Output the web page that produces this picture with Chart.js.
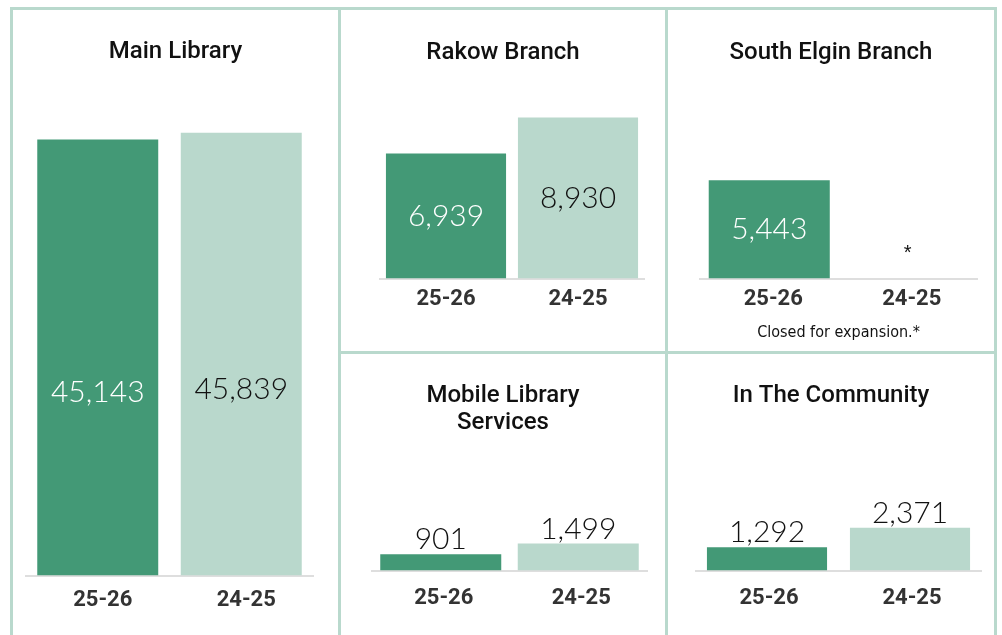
<!DOCTYPE html>
<html>
<head>
<meta charset="utf-8">
<script src="https://cdn.jsdelivr.net/npm/chart.js@4.4.1/dist/chart.umd.min.js"></script>
<style>
html, body { margin: 0; padding: 0; background: #fff; width: 1002px; height: 635px; overflow: hidden; }
.panel { position: absolute; box-sizing: border-box; border: 3px solid #b9d9cd; }
.panel canvas { position: absolute; left: 0; top: 0; }
</style>
</head>
<body>
<div class="panel" style="left:10px;top:7px;width:331px;height:650px;"><canvas id="miGrafico1" width="325" height="625"></canvas></div>
<div class="panel" style="left:338px;top:7px;width:330px;height:347px;"><canvas id="miGrafico2" width="324" height="341"></canvas></div>
<div class="panel" style="left:665px;top:7px;width:332px;height:347px;"><canvas id="miGrafico3" width="326" height="341"></canvas></div>
<div class="panel" style="left:338px;top:351px;width:330px;height:300px;"><canvas id="miGrafico4" width="324" height="281"></canvas></div>
<div class="panel" style="left:665px;top:351px;width:332px;height:300px;"><canvas id="miGrafico5" width="326" height="281"></canvas></div>
<script>
// años fiscales
const labelsAnios = ['25-26', '24-25'];

const dataMain = [45143, 45839];
const dataRakow = [6939, 8930];
const dataSouthElgin = [5443, null]; // 24-25 cerrado
const dataMobile = [901, 1499];
const dataCommunity = [1292, 2371];

const colores = ['#439976', '#b9d8cc'];

// dibuja los numeros sobre / dentro de las barras
const etiquetasPlugin = {
    id: 'etiquetas',
    afterDatasetsDraw(chart, args, opts) {
        const ctx = chart.ctx;
        const meta = chart.getDatasetMeta(0);
        const valores = chart.data.datasets[0].data;
        ctx.save();
        ctx.textAlign = 'center';
        meta.data.forEach((bar, i) => {
            const v = valores[i];
            if (v === null || v === undefined) {
                ctx.font = '20px "Liberation Sans", Arial, sans-serif';
                ctx.fillStyle = '#111';
                ctx.textBaseline = 'alphabetic';
                ctx.fillText('*', bar.x, chart.chartArea.bottom - 20);
                return;
            }
            const texto = v.toLocaleString('en-US');
            ctx.font = '300 30px Lato, Roboto, sans-serif';
            if (opts.pos === 'top') {
                ctx.fillStyle = '#111';
                ctx.textBaseline = 'alphabetic';
                ctx.fillText(texto, bar.x, bar.y - 5);
            } else {
                ctx.fillStyle = i === 0 ? '#ffffff' : '#111';
                ctx.textBaseline = 'middle';
                ctx.fillText(texto, bar.x, bar.base - (bar.base - bar.y) * opts.pos);
            }
        });
        ctx.restore();
    }
};

// eje invisible que solo reserva espacio a los lados
function espacio(ancho, pos) {
    return {
        display: true,
        position: pos,
        grid: { display: false, drawTicks: false },
        border: { display: false },
        ticks: { display: false },
        afterFit: (s) => { s.width = ancho; }
    };
}

function getChartConfig(data, labels, o) {
    const y = espacio(o.izq, 'left');
    y.min = 0;
    y.max = o.max;
    return {
        type: 'bar',
        data: {
            labels: labels,
            datasets: [{
                data: data,
                backgroundColor: colores,
                borderWidth: 0,
                categoryPercentage: 1,
                barPercentage: o.bar
            }]
        },
        options: {
            responsive: false,
            animation: false,
            layout: { padding: { left: 0, right: 0, top: 0, bottom: o.abajo } },
            scales: {
                x: {
                    grid: { display: false, drawTicks: false },
                    border: { display: true, color: '#dedede', width: 2 },
                    ticks: {
                        color: '#333',
                        padding: o.tickPad,
                        labelOffset: o.offset || 0,
                        font: { family: 'Roboto, sans-serif', weight: 'bold', size: 22 }
                    }
                },
                y: y,
                y2: espacio(o.der, 'right')
            },
            plugins: {
                legend: { display: false },
                tooltip: { enabled: false },
                title: {
                    display: true,
                    text: o.title,
                    color: '#111',
                    padding: o.titlePad,
                    font: { family: 'Roboto, sans-serif', weight: '500', size: 24, lineHeight: o.titleLH || 1.2 }
                },
                subtitle: o.nota ? {
                    display: true,
                    text: o.nota,
                    position: 'bottom',
                    fullSize: false,
                    color: '#111',
                    padding: { top: 2.7, bottom: 7.2 },
                    font: { family: '"DejaVu Sans Condensed", sans-serif', size: 16, lineHeight: 1.35 }
                } : { display: false },
                etiquetas: { pos: o.pos }
            }
        },
        plugins: [etiquetasPlugin]
    };
}

new Chart(document.getElementById('miGrafico1'), getChartConfig(dataMain, labelsAnios, {
    title: 'Main Library', titlePad: { top: 27.6, bottom: 26.1 },
    izq: 13, der: 25, abajo: 10.5,
    tickPad: 11.3, max: 50000, bar: 0.843, pos: 0.42, offset: 5
}));

new Chart(document.getElementById('miGrafico2'), getChartConfig(dataRakow, labelsAnios, {
    title: 'Rakow Branch', titlePad: { top: 28.6, bottom: 30.8 },
    izq: 39, der: 21, abajo: 31.5,
    tickPad: 7.3, max: 10000, bar: 0.91, pos: 0.5
}));

new Chart(document.getElementById('miGrafico3'), getChartConfig(dataSouthElgin, labelsAnios, {
    title: 'South Elgin Branch', titlePad: { top: 28.6, bottom: 30.8 },
    izq: 32, der: 17, abajo: 0,
    tickPad: 7.3, max: 10000, bar: 0.874, pos: 0.5, offset: 4,
    nota: 'Closed for expansion.*'
}));

new Chart(document.getElementById('miGrafico4'), getChartConfig(dataMobile, labelsAnios, {
    title: ['Mobile Library', 'Services'], titleLH: 1.125, titlePad: { top: 28.5, bottom: 44 },
    izq: 31, der: 18, abajo: 9.5,
    tickPad: 14.3, max: 5000, bar: 0.88, pos: 'top', offset: 3
}));

new Chart(document.getElementById('miGrafico5'), getChartConfig(dataCommunity, labelsAnios, {
    title: 'In The Community', titlePad: { top: 27.6, bottom: 70.1 },
    izq: 27.5, der: 12.5, abajo: 9.5,
    tickPad: 14.3, max: 5000, bar: 0.84, pos: 'top', offset: 2
}));
</script>
</body>
</html>
